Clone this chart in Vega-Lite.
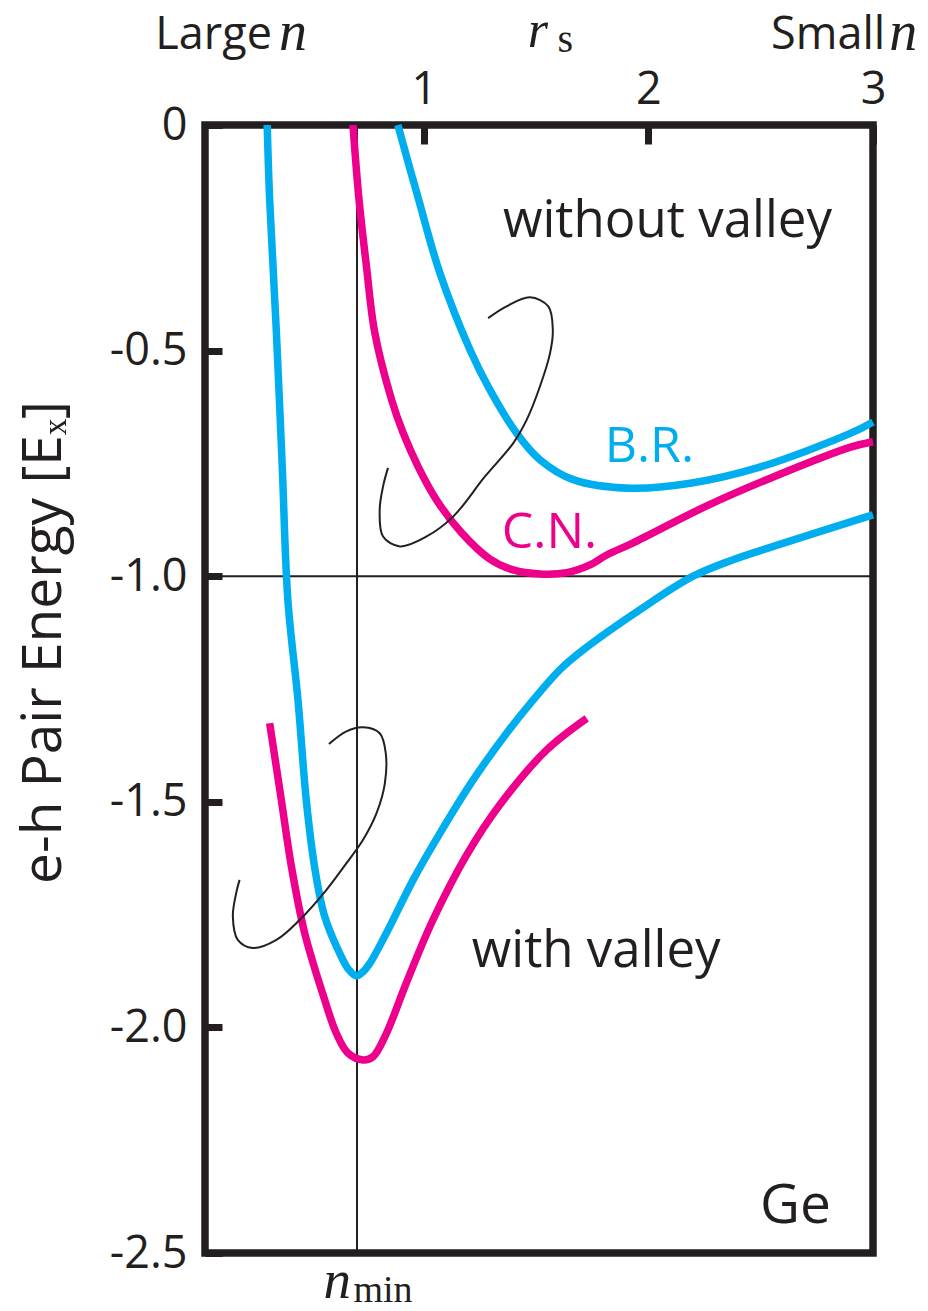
{
  "$schema": "https://vega.github.io/schema/vega-lite/v6.json",
  "width": 668,
  "height": 1128,
  "autosize": {"type": "none"},
  "padding": {"left": 205, "top": 125, "right": 55, "bottom": 58},
  "background": "white",
  "config": {"view": {"stroke": "#231F20", "strokeWidth": 7.5}, "font": "Open Sans"},
  "datasets": {
    "curves": [
      {"series": "BR_without", "model": "B.R.", "r": 0.884, "E": 0},
      {"series": "BR_without", "model": "B.R.", "r": 0.93, "E": -0.083},
      {"series": "BR_without", "model": "B.R.", "r": 0.977, "E": -0.166},
      {"series": "BR_without", "model": "B.R.", "r": 1.071, "E": -0.328},
      {"series": "BR_without", "model": "B.R.", "r": 1.205, "E": -0.498},
      {"series": "BR_without", "model": "B.R.", "r": 1.294, "E": -0.587},
      {"series": "BR_without", "model": "B.R.", "r": 1.413, "E": -0.683},
      {"series": "BR_without", "model": "B.R.", "r": 1.517, "E": -0.742},
      {"series": "BR_without", "model": "B.R.", "r": 1.665, "E": -0.786},
      {"series": "BR_without", "model": "B.R.", "r": 1.918, "E": -0.805},
      {"series": "BR_without", "model": "B.R.", "r": 2.186, "E": -0.794},
      {"series": "BR_without", "model": "B.R.", "r": 2.484, "E": -0.76},
      {"series": "BR_without", "model": "B.R.", "r": 2.901, "E": -0.683},
      {"series": "BR_without", "model": "B.R.", "r": 3.0, "E": -0.658},
      {"series": "CN_without", "model": "C.N.", "r": 0.684, "E": 0},
      {"series": "CN_without", "model": "C.N.", "r": 0.711, "E": -0.166},
      {"series": "CN_without", "model": "C.N.", "r": 0.744, "E": -0.313},
      {"series": "CN_without", "model": "C.N.", "r": 0.781, "E": -0.46},
      {"series": "CN_without", "model": "C.N.", "r": 0.856, "E": -0.609},
      {"series": "CN_without", "model": "C.N.", "r": 0.907, "E": -0.682},
      {"series": "CN_without", "model": "C.N.", "r": 0.974, "E": -0.757},
      {"series": "CN_without", "model": "C.N.", "r": 1.056, "E": -0.831},
      {"series": "CN_without", "model": "C.N.", "r": 1.168, "E": -0.904},
      {"series": "CN_without", "model": "C.N.", "r": 1.294, "E": -0.962},
      {"series": "CN_without", "model": "C.N.", "r": 1.397, "E": -0.986},
      {"series": "CN_without", "model": "C.N.", "r": 1.517, "E": -0.995},
      {"series": "CN_without", "model": "C.N.", "r": 1.636, "E": -0.992},
      {"series": "CN_without", "model": "C.N.", "r": 1.74, "E": -0.975},
      {"series": "CN_without", "model": "C.N.", "r": 1.814, "E": -0.953},
      {"series": "CN_without", "model": "C.N.", "r": 1.932, "E": -0.926},
      {"series": "CN_without", "model": "C.N.", "r": 2.26, "E": -0.844},
      {"series": "CN_without", "model": "C.N.", "r": 2.556, "E": -0.78},
      {"series": "CN_without", "model": "C.N.", "r": 2.9, "E": -0.714},
      {"series": "CN_without", "model": "C.N.", "r": 3.0, "E": -0.702},
      {"series": "BR_with", "model": "B.R.", "r": 0.302, "E": 0},
      {"series": "BR_with", "model": "B.R.", "r": 0.313, "E": -0.166},
      {"series": "BR_with", "model": "B.R.", "r": 0.343, "E": -0.46},
      {"series": "BR_with", "model": "B.R.", "r": 0.369, "E": -0.757},
      {"series": "BR_with", "model": "B.R.", "r": 0.394, "E": -1.052},
      {"series": "BR_with", "model": "B.R.", "r": 0.439, "E": -1.274},
      {"series": "BR_with", "model": "B.R.", "r": 0.476, "E": -1.496},
      {"series": "BR_with", "model": "B.R.", "r": 0.513, "E": -1.644},
      {"series": "BR_with", "model": "B.R.", "r": 0.558, "E": -1.754},
      {"series": "BR_with", "model": "B.R.", "r": 0.625, "E": -1.836},
      {"series": "BR_with", "model": "B.R.", "r": 0.665, "E": -1.872},
      {"series": "BR_with", "model": "B.R.", "r": 0.699, "E": -1.886},
      {"series": "BR_with", "model": "B.R.", "r": 0.73, "E": -1.876},
      {"series": "BR_with", "model": "B.R.", "r": 0.759, "E": -1.858},
      {"series": "BR_with", "model": "B.R.", "r": 0.833, "E": -1.791},
      {"series": "BR_with", "model": "B.R.", "r": 0.952, "E": -1.673},
      {"series": "BR_with", "model": "B.R.", "r": 1.071, "E": -1.57},
      {"series": "BR_with", "model": "B.R.", "r": 1.22, "E": -1.451},
      {"series": "BR_with", "model": "B.R.", "r": 1.368, "E": -1.348},
      {"series": "BR_with", "model": "B.R.", "r": 1.487, "E": -1.274},
      {"series": "BR_with", "model": "B.R.", "r": 1.606, "E": -1.207},
      {"series": "BR_with", "model": "B.R.", "r": 1.71, "E": -1.163},
      {"series": "BR_with", "model": "B.R.", "r": 1.963, "E": -1.074},
      {"series": "BR_with", "model": "B.R.", "r": 2.199, "E": -1.0},
      {"series": "BR_with", "model": "B.R.", "r": 2.38, "E": -0.963},
      {"series": "BR_with", "model": "B.R.", "r": 2.556, "E": -0.934},
      {"series": "BR_with", "model": "B.R.", "r": 2.974, "E": -0.868},
      {"series": "BR_with", "model": "B.R.", "r": 3.0, "E": -0.864},
      {"series": "CN_with", "model": "C.N.", "r": 0.313, "E": -1.326},
      {"series": "CN_with", "model": "C.N.", "r": 0.365, "E": -1.496},
      {"series": "CN_with", "model": "C.N.", "r": 0.41, "E": -1.644},
      {"series": "CN_with", "model": "C.N.", "r": 0.469, "E": -1.791},
      {"series": "CN_with", "model": "C.N.", "r": 0.558, "E": -1.939},
      {"series": "CN_with", "model": "C.N.", "r": 0.61, "E": -2.013},
      {"series": "CN_with", "model": "C.N.", "r": 0.662, "E": -2.057},
      {"series": "CN_with", "model": "C.N.", "r": 0.729, "E": -2.072},
      {"series": "CN_with", "model": "C.N.", "r": 0.773, "E": -2.065},
      {"series": "CN_with", "model": "C.N.", "r": 0.833, "E": -2.013},
      {"series": "CN_with", "model": "C.N.", "r": 0.922, "E": -1.901},
      {"series": "CN_with", "model": "C.N.", "r": 1.04, "E": -1.762},
      {"series": "CN_with", "model": "C.N.", "r": 1.19, "E": -1.618},
      {"series": "CN_with", "model": "C.N.", "r": 1.339, "E": -1.506},
      {"series": "CN_with", "model": "C.N.", "r": 1.547, "E": -1.385},
      {"series": "CN_with", "model": "C.N.", "r": 1.725, "E": -1.315}
    ],
    "loops": [
      {"loop": "upper", "i": 0, "r": 1.286, "E": -0.428},
      {"loop": "upper", "i": 1, "r": 1.368, "E": -0.402},
      {"loop": "upper", "i": 2, "r": 1.472, "E": -0.382},
      {"loop": "upper", "i": 3, "r": 1.554, "E": -0.402},
      {"loop": "upper", "i": 4, "r": 1.574, "E": -0.454},
      {"loop": "upper", "i": 5, "r": 1.562, "E": -0.505},
      {"loop": "upper", "i": 6, "r": 1.517, "E": -0.579},
      {"loop": "upper", "i": 7, "r": 1.458, "E": -0.653},
      {"loop": "upper", "i": 8, "r": 1.398, "E": -0.705},
      {"loop": "upper", "i": 9, "r": 1.272, "E": -0.779},
      {"loop": "upper", "i": 10, "r": 1.13, "E": -0.868},
      {"loop": "upper", "i": 11, "r": 1.012, "E": -0.912},
      {"loop": "upper", "i": 12, "r": 0.893, "E": -0.934},
      {"loop": "upper", "i": 13, "r": 0.818, "E": -0.912},
      {"loop": "upper", "i": 14, "r": 0.803, "E": -0.853},
      {"loop": "upper", "i": 15, "r": 0.818, "E": -0.801},
      {"loop": "upper", "i": 16, "r": 0.84, "E": -0.76},
      {"loop": "lower", "i": 0, "r": 0.577, "E": -1.372},
      {"loop": "lower", "i": 1, "r": 0.655, "E": -1.344},
      {"loop": "lower", "i": 2, "r": 0.729, "E": -1.335},
      {"loop": "lower", "i": 3, "r": 0.803, "E": -1.348},
      {"loop": "lower", "i": 4, "r": 0.83, "E": -1.392},
      {"loop": "lower", "i": 5, "r": 0.826, "E": -1.459},
      {"loop": "lower", "i": 6, "r": 0.789, "E": -1.525},
      {"loop": "lower", "i": 7, "r": 0.729, "E": -1.584},
      {"loop": "lower", "i": 8, "r": 0.655, "E": -1.636},
      {"loop": "lower", "i": 9, "r": 0.566, "E": -1.695},
      {"loop": "lower", "i": 10, "r": 0.446, "E": -1.762},
      {"loop": "lower", "i": 11, "r": 0.343, "E": -1.806},
      {"loop": "lower", "i": 12, "r": 0.238, "E": -1.824},
      {"loop": "lower", "i": 13, "r": 0.171, "E": -1.806},
      {"loop": "lower", "i": 14, "r": 0.149, "E": -1.754},
      {"loop": "lower", "i": 15, "r": 0.164, "E": -1.702},
      {"loop": "lower", "i": 16, "r": 0.179, "E": -1.673}
    ],
    "vRule": [{"r": 0.702, "E": 0, "E2": -2.5}],
    "hRule": [{"r": 0.025, "r2": 3, "E": -1}],
    "regionLabels": [
      {"text": "without valley", "r": 1.352, "E": -0.2476},
      {"text": "with valley", "r": 1.213, "E": -1.8655}
    ],
    "materialLabel": [
      {"text": "Ge", "r": 2.497, "E": -2.434}
    ],
    "modelLabels": [
      {"text": "B.R.", "model": "B.R.", "r": 1.805, "E": -0.746},
      {"text": "C.N.", "model": "C.N.", "r": 1.347, "E": -0.938}
    ],
    "densityWords": [
      {"text": "Large", "r": 0.323, "E": 0.1695},
      {"text": "Small", "r": 3.054, "E": 0.1695}
    ],
    "mathItalicN": [
      {"text": "n", "r": 0.355, "E": 0.1662},
      {"text": "n", "r": 3.072, "E": 0.1662}
    ],
    "mathItalicR": [
      {"text": "r", "r": 1.462, "E": 0.173}
    ],
    "mathItalicBottom": [
      {"text": "n", "r": 0.553, "E": -2.5997}
    ],
    "mathSubTop": [
      {"text": "s", "r": 1.595, "E": 0.162}
    ],
    "mathSubBottom": [
      {"text": "min", "r": 0.686, "E": -2.6086}
    ]
  },
  "encoding": {
    "x": {
      "field": "r", "type": "quantitative",
      "scale": {"domain": [0.025, 3], "nice": false, "zero": false},
      "axis": {
        "orient": "top", "values": [1, 2, 3], "title": null, "grid": false, "domain": false,
        "tickSize": -19, "tickWidth": 7, "tickColor": "#231F20",
        "labelFont": "Open Sans", "labelFontSize": 45, "labelColor": "#231F20",
        "labelPadding": 41, "labelBaseline": "alphabetic", "labelFlush": false, "labelOverlap": false
      }
    },
    "y": {
      "field": "E", "type": "quantitative",
      "scale": {"domain": [-2.5, 0], "nice": false, "zero": false},
      "axis": {
        "values": [0, -0.5, -1, -1.5, -2, -2.5],
        "labelExpr": "datum.value == 0 ? '0' : '-' + format(-datum.value, '.1f')",
        "grid": false, "domain": false,
        "tickSize": -17, "tickWidth": 7, "tickColor": "#231F20",
        "labelFont": "Open Sans", "labelFontSize": 45, "labelColor": "#231F20",
        "labelPadding": 35, "labelFlush": false, "labelOverlap": false,
        "title": "e-h Pair Energy [Eₓ]", "titleFont": "Open Sans", "titleFontSize": 55,
        "titleFontWeight": "normal", "titleColor": "#231F20",
        "titleX": -145, "titleY": 517, "titleAngle": -90, "titleAlign": "center", "titleBaseline": "alphabetic"
      }
    }
  },
  "layer": [
    {
      "data": {"name": "vRule"},
      "mark": {"type": "rule", "strokeWidth": 2, "color": "#231F20"},
      "encoding": {"y2": {"field": "E2"}}
    },
    {
      "data": {"name": "hRule"},
      "mark": {"type": "rule", "strokeWidth": 2, "color": "#231F20"},
      "encoding": {"x2": {"field": "r2"}}
    },
    {
      "data": {"name": "curves"},
      "mark": {"type": "line", "interpolate": "catmull-rom", "strokeWidth": 7.5, "strokeCap": "butt"},
      "encoding": {
        "color": {"field": "model", "type": "nominal", "scale": {"domain": ["B.R.", "C.N."], "range": ["#00AEEF", "#EC008C"]}, "legend": null},
        "detail": {"field": "series"}
      }
    },
    {
      "data": {"name": "loops"},
      "mark": {"type": "line", "interpolate": "catmull-rom", "strokeWidth": 2, "color": "#231F20"},
      "encoding": {
        "detail": {"field": "loop"},
        "order": {"field": "i", "type": "quantitative"}
      }
    },
    {
      "data": {"name": "regionLabels"},
      "mark": {"type": "text", "font": "Open Sans", "fontSize": 51, "align": "left", "baseline": "alphabetic", "color": "#231F20"},
      "encoding": {"text": {"field": "text"}}
    },
    {
      "data": {"name": "materialLabel"},
      "mark": {"type": "text", "font": "Open Sans", "fontSize": 55, "align": "left", "baseline": "alphabetic", "color": "#231F20"},
      "encoding": {"text": {"field": "text"}}
    },
    {
      "data": {"name": "modelLabels"},
      "mark": {"type": "text", "font": "Open Sans", "fontSize": 50, "align": "left", "baseline": "alphabetic"},
      "encoding": {
        "text": {"field": "text"},
        "color": {"field": "model", "type": "nominal", "legend": null}
      }
    },
    {
      "data": {"name": "densityWords"},
      "mark": {"type": "text", "font": "Open Sans", "fontSize": 45, "align": "right", "baseline": "alphabetic", "color": "#231F20"},
      "encoding": {"text": {"field": "text"}}
    },
    {
      "data": {"name": "mathItalicN"},
      "mark": {"type": "text", "font": "Liberation Serif", "fontStyle": "italic", "fontSize": 56, "align": "left", "baseline": "alphabetic", "color": "#231F20"},
      "encoding": {"text": {"field": "text"}}
    },
    {
      "data": {"name": "mathItalicR"},
      "mark": {"type": "text", "font": "Liberation Serif", "fontStyle": "italic", "fontSize": 52, "align": "left", "baseline": "alphabetic", "color": "#231F20"},
      "encoding": {"text": {"field": "text"}}
    },
    {
      "data": {"name": "mathItalicBottom"},
      "mark": {"type": "text", "font": "Liberation Serif", "fontStyle": "italic", "fontSize": 55, "align": "left", "baseline": "alphabetic", "color": "#231F20"},
      "encoding": {"text": {"field": "text"}}
    },
    {
      "data": {"name": "mathSubTop"},
      "mark": {"type": "text", "font": "Liberation Serif", "fontSize": 40, "align": "left", "baseline": "alphabetic", "color": "#231F20"},
      "encoding": {"text": {"field": "text"}}
    },
    {
      "data": {"name": "mathSubBottom"},
      "mark": {"type": "text", "font": "Liberation Serif", "fontSize": 38, "align": "left", "baseline": "alphabetic", "color": "#231F20"},
      "encoding": {"text": {"field": "text"}}
    }
  ]
}
